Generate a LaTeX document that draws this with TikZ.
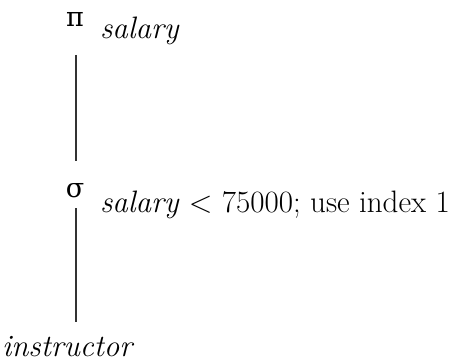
\documentclass[tikz,border=0pt]{standalone}
\usepackage{fontspec}
\newfontfamily\greekfont{DejaVu Serif}
\begin{document}
\begin{tikzpicture}[x=1pt,y=-1pt,
  op/.style={inner sep=0pt,outer sep=0pt,anchor=base,font=\greekfont\fontsize{27}{30}\selectfont},
  lbl/.style={inner sep=0pt,outer sep=0pt,anchor=base west,font=\fontsize{31}{34}\selectfont},
  edge/.style={line width=1.1pt,black!80}]
\useasboundingbox (0,0) rectangle (456,363);
\node[op] (pisym) at (75,27) {π};
\node[lbl] (pisub) at (100,39) {\textit{salary}};
\node[op] (sigsym) at (75,198) {σ};
\node[lbl] (sigsub) at (100,213) {\textit{salary} < 75000; use index 1};
\node[lbl] (instr) at (2,357) {\textit{instructor}};
\coordinate (lx) at (76,0);
\draw[edge,shorten <=28pt,shorten >=23pt] (pisym.south -| lx) -- (sigsym.north -| lx);
\draw[edge,shorten <=10pt,shorten >=15pt] (sigsym.south -| lx) -- (instr.north -| lx);
\end{tikzpicture}
\end{document}
